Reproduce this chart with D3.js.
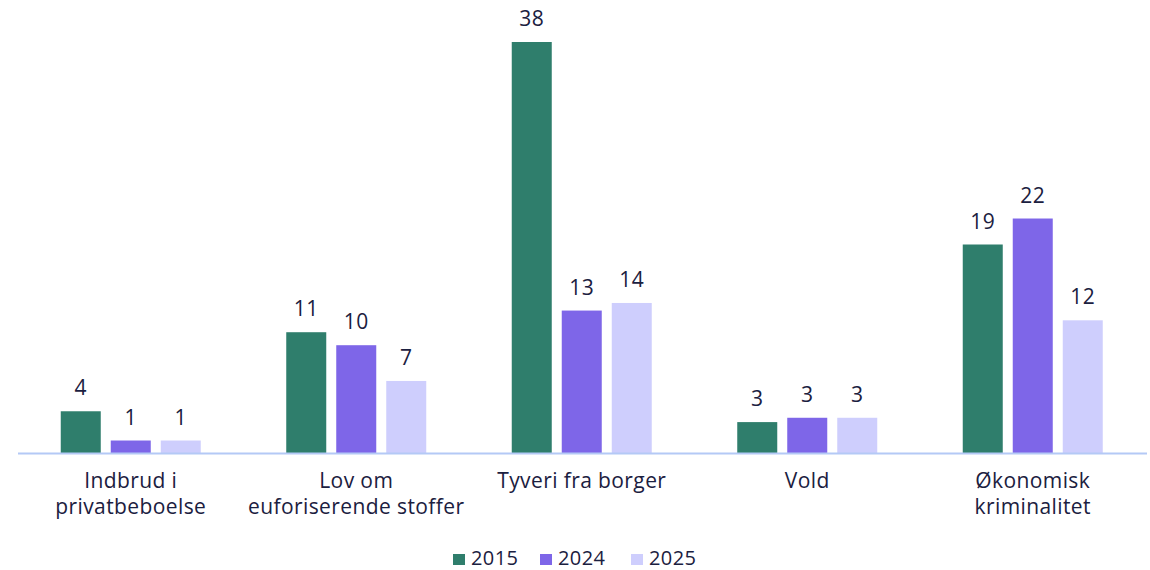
<!DOCTYPE html>
<html>
<head>
<meta charset="utf-8">
<script src="https://cdn.jsdelivr.net/npm/d3@7"></script>
<style>
  body { margin: 0; background: #fff; }
  text { font-family: "Open Sans", sans-serif; fill: #1b2040; letter-spacing: 0.4px; }
</style>
</head>
<body>
<div id="chart"></div>
<script>
const categories = [["Indbrud i", "privatbeboelse"], ["Lov om", "euforiserende stoffer"], ["Tyveri fra borger"], ["Vold"], ["Økonomisk", "kriminalitet"]]
const years = ["2015", "2024", "2025"]
const v2015 = [3.9, 11.2, 38, 2.9, 19.3]
const v2024 = [1.2, 10, 13.2, 3.3, 21.7]
const v2025 = [1.2, 6.7, 13.9, 3.3, 12.3]
const colors = ["#2f7e6c", "#7e66e8", "#cecefd"]

const width = 1150, height = 570
const baseY = 453.5

const svg = d3.select('#chart').append('svg')
  .attr('width', width).attr('height', height)

const x0 = d3.scaleBand().domain(d3.range(categories.length)).range([18, 1145.5]).paddingInner(0).paddingOuter(0)
const x1 = d3.scaleBand().domain(years).range([42.75, 182.75]).paddingInner(0.2).paddingOuter(0)
const y = d3.scaleLinear().domain([0, 38]).range([baseY, 42])

const series = [v2015, v2024, v2025]

const groups = svg.selectAll('g.grp')
  .data(categories)
  .enter().append('g')
  .attr('class', 'grp')
  .attr('transform', (d, i) => 'translate(' + x0(i) + ',0)')

groups.each(function(c, i) {
  const g = d3.select(this)
  years.forEach((yr, j) => {
    const val = series[j][i]
    g.append('rect')
      .attr('x', x1(yr))
      .attr('y', y(val))
      .attr('width', x1.bandwidth())
      .attr('height', baseY - y(val))
      .attr('fill', colors[j])
    g.append('text')
      .attr('x', x1(yr) + x1.bandwidth() / 2)
      .attr('y', y(val) - 16)
      .attr('text-anchor', 'middle')
      .style('font-size', '21px')
      .text(Math.round(val))
  })
  c.forEach((line, k) => {
    g.append('text')
      .attr('x', x0.bandwidth() / 2)
      .attr('y', 488 + k * 26)
      .attr('text-anchor', 'middle')
      .style('font-size', '21px')
      .text(line)
  })
})

// baseline
svg.append('line')
  .attr('x1', 18).attr('x2', 1147)
  .attr('y1', baseY).attr('y2', baseY)
  .attr('stroke', '#b4c9f6').attr('stroke-width', 2)

// legend
const legX = [453, 540, 631]
const legend = svg.selectAll('g.leg').data(years).enter().append('g')
  .attr('class', 'leg')
  .attr('transform', (d, i) => 'translate(' + legX[i] + ',559)')
legend.append('rect').attr('x', 0).attr('y', -5).attr('width', 12).attr('height', 11)
  .attr('fill', (d, i) => colors[i])
legend.append('text').attr('x', 18).attr('y', 6)
  .style('font-size', '20px')
  .text(d => d)
</script>
</body>
</html>
